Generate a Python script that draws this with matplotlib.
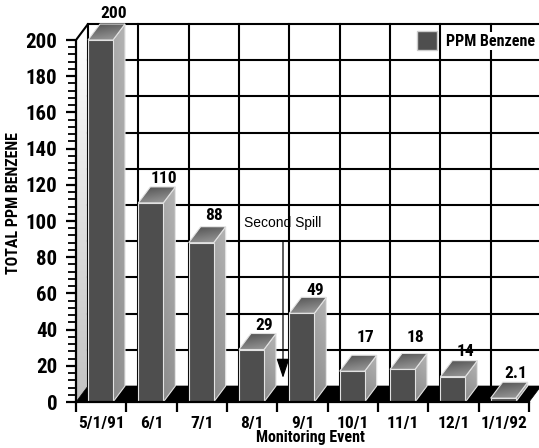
import numpy as np
import matplotlib
matplotlib.use("Agg")
import matplotlib.pyplot as plt
from matplotlib.patches import Polygon, Patch
from matplotlib.colors import to_rgb

# ---------------- data ----------------
categories = ["5/1/91", "6/1", "7/1", "8/1", "9/1", "10/1", "11/1", "12/1", "1/1/92"]
ppm_benzene = [200, 110, 88, 29, 49, 17, 18, 14, 2.1]
value_labels = ["200", "110", "88", "29", "49", "17", "18", "14", "2.1"]
y_ticks = list(range(0, 201, 20))
y_minor_ticks = list(range(0, 201, 4))
series_name = "PPM Benzene"

# style: extra lift (pixels) of each value label above its bar
label_lift_px = [11, 8, 11, 8.5, 7, 17.5, 16, 9, 9]

HEAVY = 900
plt.rcParams["font.family"] = ["Roboto Condensed", "DejaVu Sans"]
plt.rcParams["font.weight"] = HEAVY

W, H = 539, 448
fig = plt.figure(figsize=(W / 100, H / 100), dpi=100)

# front plane pixel geometry
X0_PX, XN_PX = 76, 529
Y0_PX, YTOP_PX = 402, 40
n = len(categories)
ppx = (XN_PX - X0_PX) / n
ppy = (Y0_PX - YTOP_PX) / 200.0
ax_right_px, ax_top_px = 545, 4
ax = fig.add_axes([X0_PX / W, (H - Y0_PX) / H,
                   (ax_right_px - X0_PX) / W, (Y0_PX - ax_top_px) / H])
XLIM = (0, (ax_right_px - X0_PX) / ppx)
YLIM = (0, (Y0_PX - ax_top_px) / ppy)
DX = 12 / ppx
DY = 16 / ppy
YMAX = 200

FRONT = "#4e4e4e"
EDGE = "#e2e2e2"


def grad_poly(verts, c0, c1, direction, z):
    verts = np.asarray(verts, float)
    poly = Polygon(verts, closed=True, facecolor="none", edgecolor="none",
                   transform=ax.transData, zorder=z)
    ax.add_patch(poly)
    xmin, ymin = verts.min(0)
    xmax, ymax = verts.max(0)
    u = np.linspace(0, 1, 48)
    U, V = np.meshgrid(u, u)
    s = U * direction[0] + V * direction[1]
    s = (s - s.min()) / (s.max() - s.min() + 1e-12)
    a = np.array(to_rgb(c0))
    b = np.array(to_rgb(c1))
    img = a[None, None, :] * (1 - s[..., None]) + b[None, None, :] * s[..., None]
    im = ax.imshow(img, extent=[xmin, xmax, ymin, ymax], origin="lower",
                   aspect="auto", interpolation="bilinear", zorder=z)
    im.set_clip_path(poly)
    return poly


# left wall
grad_poly([(0, 0), (0, YMAX), (DX, YMAX + DY), (DX, DY)],
          "#c2c2c2", "#ffffff", (0, 1), 0.5)
ax.plot([0, DX], [YMAX, YMAX + DY], color="black", lw=1.5, zorder=1,
        solid_capstyle="butt")

# back wall grid
for v in y_ticks[1:]:
    ax.plot([DX, n + DX], [v + DY, v + DY], color="black", lw=1.5, zorder=1)
for i in range(n + 1):
    ax.plot([i + DX, i + DX], [DY, YMAX + DY], color="black", lw=1.5, zorder=1)

# floor
ax.add_patch(Polygon([(0, 0), (n, 0), (n + DX, DY), (DX, DY)], closed=True,
                     facecolor="black", edgecolor="black", lw=0.5, zorder=2))

# bars
bw = 25 / ppx
off = 12 / ppx
xs = np.arange(n) + off
ax.bar(xs, ppm_benzene, width=bw, align="edge", color=FRONT,
       edgecolor=EDGE, linewidth=0.8, zorder=5)
for i, v in enumerate(ppm_benzene):
    x0 = xs[i]
    x1 = x0 + bw
    side = [(x1, 0), (x1 + DX, DY), (x1 + DX, v + DY), (x1, v)]
    grad_poly(side, "#8a8a8a", "#b4b4b4", (0.3, 1), 3)
    ax.add_patch(Polygon(side, closed=True, facecolor="none", edgecolor=EDGE,
                         lw=0.8, zorder=3.2))
    top = [(x0, v), (x1, v), (x1 + DX, v + DY), (x0 + DX, v + DY)]
    grad_poly(top, "#a0a0a0", "#505050", (-0.4, 1), 3.4)
    ax.add_patch(Polygon(top, closed=True, facecolor="none", edgecolor=EDGE,
                         lw=0.8, zorder=3.6))
    ax.annotate(value_labels[i], xy=(x0 + bw / 2, v + DY),
                xytext=(13, label_lift_px[i]), textcoords="offset pixels",
                ha="center", va="center", fontsize=12.5, fontweight=HEAVY,
                zorder=8)

# axes / ticks
for sp in ("top", "right"):
    ax.spines[sp].set_visible(False)
ax.spines["left"].set_bounds(0, YMAX)
ax.spines["bottom"].set_bounds(0, n)
for sp in ("left", "bottom"):
    ax.spines[sp].set_linewidth(1.6)
    ax.spines[sp].set_zorder(6)
ax.set_yticks(y_ticks)
ax.set_yticklabels([str(t) for t in y_ticks])
ax.set_yticks(y_minor_ticks, minor=True)
ax.tick_params(axis="y", which="major", length=7.5, width=1.6, pad=6,
               labelsize=15)
ax.tick_params(axis="y", which="minor", length=5.5, width=1.3)
for lab in ax.get_yticklabels():
    lab.set_fontweight(HEAVY)
ax.set_xticks(range(n + 1))
ax.set_xticklabels([""] * (n + 1))
ax.set_xticks(np.arange(n) + 0.5, minor=True)
ax.set_xticklabels(categories, minor=True)
ax.tick_params(axis="x", which="major", length=7.5, width=1.6)
ax.tick_params(axis="x", which="minor", length=0, pad=10, labelsize=12.5)
for lab in ax.get_xticklabels(minor=True):
    lab.set_fontweight(HEAVY)

ax.set_xlim(*XLIM)
ax.set_ylim(*YLIM)
ax.set_facecolor("none")

ax.set_ylabel("TOTAL PPM BENZENE", fontsize=11.5, fontweight=HEAVY)
ax.yaxis.set_label_coords(14 / W, (H - 203) / H, transform=fig.transFigure)
ax.yaxis.label.set_va("center")
ax.set_xlabel("Monitoring Event", fontsize=11.5, fontweight=HEAVY)
ax.xaxis.set_label_coords(310 / W, (H - 437) / H, transform=fig.transFigure)
ax.xaxis.label.set_va("center")

# annotation
ax.annotate("Second Spill", xy=((283 - X0_PX) / ppx, (Y0_PX - 378) / ppy),
            xytext=((283 - X0_PX) / ppx, (Y0_PX - 223) / ppy),
            ha="center", va="center", fontsize=10, fontweight="normal",
            family=["Liberation Sans", "DejaVu Sans"],
            arrowprops=dict(arrowstyle="-|>,head_length=0.6,head_width=0.2",
                            color="black", lw=0.9, shrinkA=6, shrinkB=0,
                            mutation_scale=20),
            zorder=9)

# legend
handle = Patch(facecolor=FRONT, edgecolor="#cccccc", label=series_name)
leg = ax.legend(handles=[handle], loc="center left",
                bbox_to_anchor=(417 / W, (H - 40.5) / H),
                bbox_transform=fig.transFigure, frameon=False, borderpad=0,
                borderaxespad=0, handlelength=1.24, handleheight=1.37,
                handletextpad=0.55, prop=dict(weight=HEAVY, size=11.5,
                                              family=["Roboto Condensed"]))
leg.get_texts()[0].set_bbox(dict(facecolor="white", edgecolor="none", pad=1))
leg.set_zorder(10)

fig.savefig("out.png", dpi=100, facecolor="white")
